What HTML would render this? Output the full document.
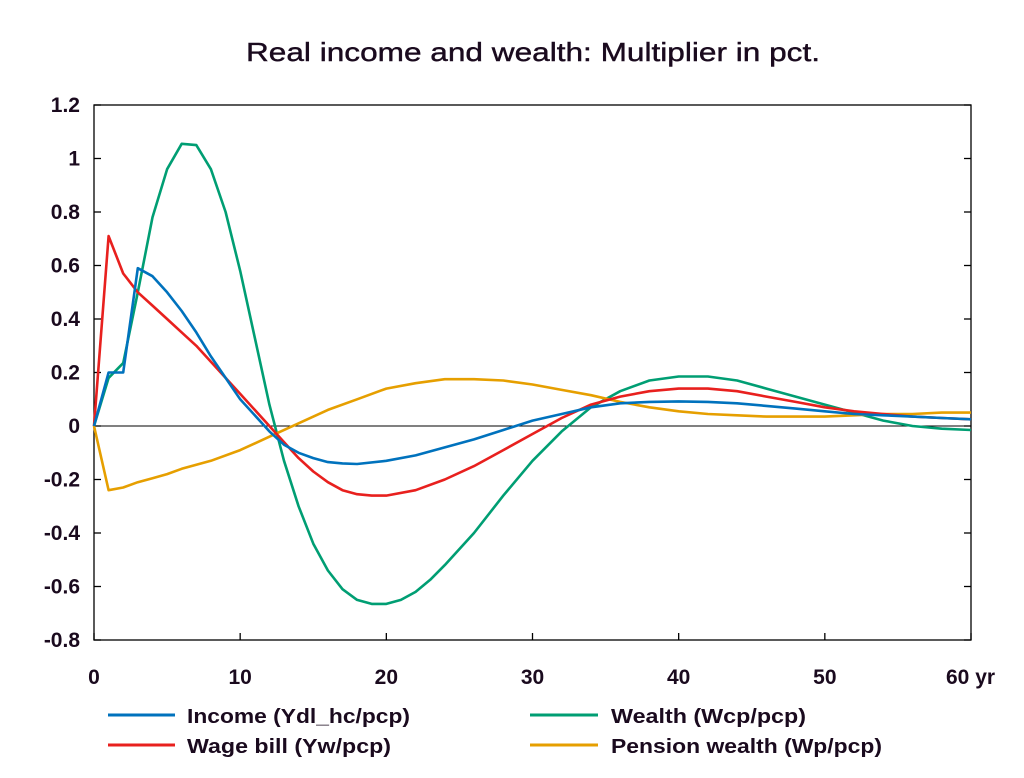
<!DOCTYPE html>
<html><head><style>body{margin:0;background:#fff}svg{display:block}text{font-family:"Liberation Sans",Arial,sans-serif;font-weight:bold;fill:#1a0a1e}</style></head>
<body>
<svg id="s" width="1024" height="778" xmlns="http://www.w3.org/2000/svg">
<text x="246" y="61" font-size="26" textLength="574" lengthAdjust="spacingAndGlyphs" font-weight="normal" style="font-weight:normal;stroke:#1a0a1e;stroke-width:0.4">Real income and wealth: Multiplier in pct.</text>
<g id="ax"></g>
<g id="series" fill="none" stroke-width="2.6" stroke-linejoin="round"></g>
<g font-size="20">
<line x1="108" y1="715" x2="175" y2="715" stroke="#0072bd" stroke-width="3"/>
<text x="187" y="723" textLength="223" lengthAdjust="spacingAndGlyphs">Income (Ydl_hc/pcp)</text>
<line x1="108" y1="745" x2="175" y2="745" stroke="#e8201e" stroke-width="3"/>
<text x="187" y="753" textLength="204" lengthAdjust="spacingAndGlyphs">Wage bill (Yw/pcp)</text>
<line x1="530" y1="715" x2="598" y2="715" stroke="#009e73" stroke-width="3"/>
<text x="611" y="723" textLength="195" lengthAdjust="spacingAndGlyphs">Wealth (Wcp/pcp)</text>
<line x1="530" y1="745" x2="598" y2="745" stroke="#e69f00" stroke-width="3"/>
<text x="611" y="753" textLength="271" lengthAdjust="spacingAndGlyphs">Pension wealth (Wp/pcp)</text>
</g>
</svg>
<script>
function X(t){return 94+t*877/60}function Y(v){return 426-v*267.5}
var ax=document.getElementById('ax'),h='';
h+='<rect x="94" y="105" width="877" height="535" fill="none" stroke="#000" stroke-width="1.3"/>';
h+='<line x1="94" y1="426" x2="971" y2="426" stroke="#000" stroke-width="1"/>';
for(var i=0;i<=10;i++){var v=1.2-i*0.2,y=Y(v);var lab=(Math.abs(v)<1e-9?'0':(Math.round(v*10)/10).toString());
h+='<line x1="94" y1="'+y+'" x2="101" y2="'+y+'" stroke="#000" stroke-width="1.3"/><line x1="964" y1="'+y+'" x2="971" y2="'+y+'" stroke="#000" stroke-width="1.3"/>';
h+='<text x="80" y="'+(y+7)+'" font-size="21" text-anchor="end">'+lab+'</text>';}
for(var t=0;t<=60;t+=10){var x=X(t);h+='<line x1="'+x+'" y1="640" x2="'+x+'" y2="633" stroke="#000" stroke-width="1.3"/>';
if(t==60)h+='<text x="946" y="684" font-size="21">60 yr</text>';else h+='<text x="'+x+'" y="684" font-size="21" text-anchor="middle">'+t+'</text>';}
ax.innerHTML=h;
var D={
"#009e73":{0:0,1:.18,2:.235,3:.5,4:.78,5:.96,6:1.055,7:1.05,8:.96,9:.8,10:.58,11:.33,12:.08,13:-.13,14:-.3,15:-.44,16:-.54,17:-.61,18:-.65,19:-.665,20:-.665,21:-.65,22:-.62,23:-.575,24:-.52,26:-.4,28:-.26,30:-.13,32:-.02,34:.07,36:.13,38:.17,40:.185,42:.185,44:.17,46:.14,48:.11,50:.08,52:.05,54:.02,56:0,58:-.01,60:-.015},
"#e69f00":{0:0,1:-.24,2:-.23,3:-.21,4:-.195,5:-.18,6:-.16,8:-.13,10:-.09,12:-.04,14:.01,16:.06,18:.1,20:.14,22:.16,24:.175,26:.175,28:.17,30:.155,32:.135,34:.115,36:.09,38:.07,40:.055,42:.045,44:.04,46:.035,48:.035,50:.035,52:.04,54:.045,56:.045,58:.05,60:.05},
"#e8201e":{0:0,1:.71,2:.57,3:.5,4:.45,5:.4,6:.35,7:.3,8:.24,9:.18,10:.12,11:.06,12:0,13:-.06,14:-.12,15:-.17,16:-.21,17:-.24,18:-.255,19:-.26,20:-.26,22:-.24,24:-.2,26:-.15,28:-.09,30:-.03,32:.03,34:.08,36:.11,38:.13,40:.14,42:.14,44:.13,46:.11,48:.09,50:.07,52:.055,54:.045,56:.035,58:.03,60:.025},
"#0072bd":{0:0,1:.2,2:.2,3:.59,4:.56,5:.5,6:.43,7:.35,8:.26,9:.18,10:.1,11:.04,12:-.02,13:-.07,14:-.1,15:-.12,16:-.135,17:-.14,18:-.142,20:-.13,22:-.11,24:-.08,26:-.05,28:-.015,30:.02,32:.045,34:.07,36:.085,38:.09,40:.092,42:.09,44:.085,46:.075,48:.065,50:.055,52:.045,54:.04,56:.035,58:.03,60:.025}};
var g=document.getElementById('series'),s='';
for(var c in D){var p=[];for(var k in D[c])p.push([+k,D[c][k]]);p.sort(function(a,b){return a[0]-b[0]});
s+='<polyline stroke="'+c+'" points="'+p.map(function(q){return X(q[0]).toFixed(1)+','+Y(q[1]).toFixed(1)}).join(' ')+'"/>';}
g.innerHTML=s;
</script>
</body></html>
